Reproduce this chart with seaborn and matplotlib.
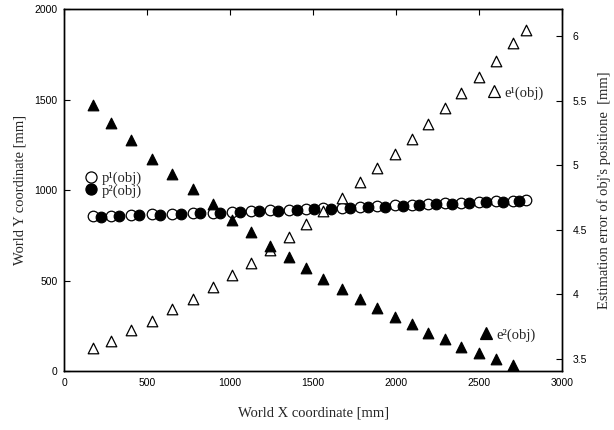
import numpy as np
import matplotlib
matplotlib.use('Agg')
import matplotlib.pyplot as plt
import seaborn as sns
from matplotlib.lines import Line2D

# x positions of the measurement points [mm]
x_pts = [175, 283, 404, 530, 651, 777, 898, 1012, 1127, 1241, 1355, 1458, 1560,
         1675, 1783, 1886, 1994, 2096, 2193, 2295, 2392, 2500, 2602, 2705, 2783]
x_pts2 = [220, 330, 450, 575, 700, 820, 940, 1060, 1175, 1290, 1400, 1505, 1610,
          1720, 1830, 1935, 2040, 2140, 2240, 2340, 2440, 2545, 2645, 2740]

# estimated object position (left axis) [mm]
p1_y = [855, 858, 861, 865, 869, 872, 876, 880, 884, 888, 892, 895, 899,
        903, 907, 911, 915, 919, 922, 926, 930, 934, 937, 941, 946]
p2_y = [853, 856, 860, 863, 867, 871, 874, 878, 882, 886, 890, 893, 897,
        901, 905, 909, 913, 917, 921, 924, 928, 932, 935, 940]

# estimation errors (right axis) [mm]
e1 = [3.585, 3.639, 3.724, 3.794, 3.887, 3.964, 4.057, 4.150, 4.243, 4.344,
      4.444, 4.545, 4.645, 4.746, 4.870, 4.978, 5.087, 5.203, 5.319, 5.443,
      5.559, 5.683, 5.806, 5.946, 6.046]
e2 = [5.466, 5.327, 5.195, 5.048, 4.932, 4.816, 4.700, 4.576, 4.483, 4.375,
      4.289, 4.204, 4.119, 4.042, 3.964, 3.895, 3.825, 3.771, 3.701, 3.655,
      3.593, 3.546, 3.500, 3.454]

sns.set_style('white')
plt.rcParams['font.family'] = ['Liberation Sans', 'DejaVu Sans']
plt.rcParams['xtick.direction'] = 'in'
plt.rcParams['ytick.direction'] = 'in'

fig = plt.figure(figsize=(6.14, 4.30), dpi=100)
ax = fig.add_axes([0.105, 0.137, 0.81, 0.842])
ax2 = ax.twinx()

serif = ['Liberation Serif', 'DejaVu Serif']
msize = 58

sns.scatterplot(x=x_pts, y=p1_y, ax=ax, marker='o', s=msize, color='white',
                edgecolor='black', linewidth=0.9, zorder=3)
sns.scatterplot(x=x_pts2, y=p2_y, ax=ax, marker='o', s=msize, color='black',
                edgecolor='black', linewidth=0.9, zorder=4)
sns.scatterplot(x=x_pts, y=e1, ax=ax2, marker='^', s=msize, color='white',
                edgecolor='black', linewidth=0.9, zorder=3)
sns.scatterplot(x=x_pts[:len(e2)], y=e2, ax=ax2, marker='^', s=msize, color='black',
                edgecolor='black', linewidth=0.9, zorder=4)

ax.set_xlim(0, 3000)
ax.set_ylim(0, 2000)
ax2.set_ylim(3.407, 6.209)
ax.set_xticks(np.arange(0, 3001, 500))
ax.set_yticks(np.arange(0, 2001, 500))
ax2.set_yticks([3.5, 4, 4.5, 5, 5.5, 6])
ax2.set_yticklabels(['3.5', '4', '4.5', '5', '5.5', '6'])

for a in (ax, ax2):
    for s in a.spines.values():
        s.set_color('black')
        s.set_linewidth(1.0)
ax.tick_params(axis='both', labelsize=7.5, length=4, width=0.8, top=True,
               right=False, pad=5, colors='black')
ax2.tick_params(axis='y', labelsize=7.5, length=4, width=0.8, pad=8, colors='black')

ax.set_xlabel('World X coordinate [mm]', family=serif, fontsize=10.5, labelpad=13)
ax.set_ylabel('World Y coordinate [mm]', family=serif, fontsize=10.5, labelpad=6)
ax2.set_ylabel("Estimation error of obj's positione  [mm]", family=serif,
               fontsize=10.5, labelpad=7)

def hnd(face):
    return Line2D([], [], marker='o', ls='', markersize=8,
                  markerfacecolor=face, markeredgecolor='black', markeredgewidth=0.9)

def thnd(face):
    return Line2D([], [], marker='^', ls='', markersize=8,
                  markerfacecolor=face, markeredgecolor='black', markeredgewidth=0.9)

leg_kw = dict(frameon=False, handlelength=0.8, handletextpad=0.3, borderpad=0,
              labelspacing=-0.05, prop={'family': serif, 'size': 10.5})
l1 = ax2.legend([hnd('white'), hnd('black')], ['p¹(obj)', 'p²(obj)'],
                loc='center left', bbox_to_anchor=(0.027, 0.515), **leg_kw)
ax2.add_artist(l1)
l2 = ax2.legend([thnd('white')], ['e¹(obj)'], loc='center left',
                bbox_to_anchor=(0.838, 0.768), **leg_kw)
ax2.add_artist(l2)
ax2.legend([thnd('black')], ['e²(obj)'], loc='center left',
           bbox_to_anchor=(0.822, 0.1), **leg_kw)

fig.savefig('out.png', dpi=100)
